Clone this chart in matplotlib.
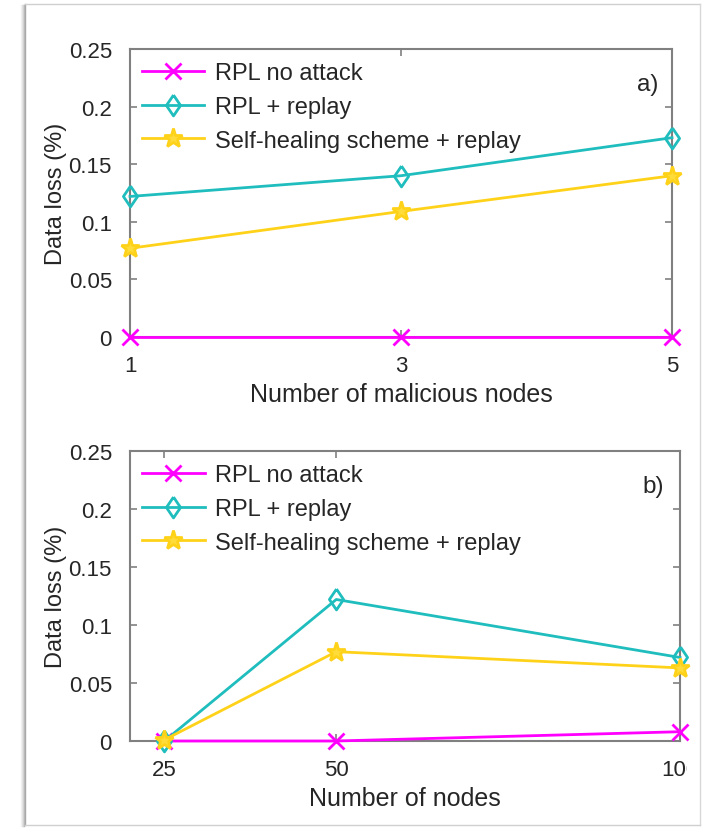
import matplotlib
matplotlib.use("Agg")
import matplotlib.pyplot as plt
from matplotlib.lines import Line2D
from matplotlib.transforms import Bbox, TransformedBbox

plt.rcParams['font.family'] = ['Liberation Sans', 'DejaVu Sans']

# ---------------------------------------------------------
# DATA
# ---------------------------------------------------------
series_names = ["RPL no attack", "RPL + replay", "Self-healing scheme + replay"]

malicious_nodes = [1, 3, 5]
a_no_attack = [0.0, 0.0, 0.0]
a_replay = [0.122, 0.140, 0.173]
a_self_healing = [0.077, 0.109, 0.140]

num_nodes = [25, 50, 100]
b_no_attack = [0.0, 0.0, 0.008]
b_replay = [0.0, 0.122, 0.072]
b_self_healing = [0.001, 0.077, 0.063]

y_ticks = [0, 0.05, 0.1, 0.15, 0.2, 0.25]
y_ticklabels = ["0", "0.05", "0.1", "0.15", "0.2", "0.25"]

# ---------------------------------------------------------
# STYLE
# ---------------------------------------------------------
colors = ["#ff00ff", "#1fbdbd", "#ffd21a"]
tall_diamond = [(0, 1), (0.68, 0), (0, -1), (-0.68, 0), (0, 1)]  # matlab-like 'd'
markers = ["x", tall_diamond, "*"]
msizes = [11, 15, 14]
faces = ["none", "none", "#ffdc3a"]
txt = "#262626"
spine = "#808080"
W, H = 704, 829


def px(x0, y0, x1, y1):
    # pixel box (top-left origin) -> figure fraction rect
    return [x0 / W, 1 - y1 / H, (x1 - x0) / W, (y1 - y0) / H]


def draw_panel(ax, xs, ys_list, xlim, xticks, xlabel, tag, tag_xy):
    handles = []
    for ys, c, m, ms, fc in zip(ys_list, colors, markers, msizes, faces):
        h, = ax.plot(xs, ys, color=c, lw=2, marker=m, ms=ms, mfc=fc,
                     mec=c, mew=2, clip_on=False, zorder=3)
        handles.append(h)
    ax.set_xlim(*xlim)
    ax.set_ylim(0, 0.25)
    ax.set_xticks(xticks)
    ax.set_yticks(y_ticks)
    ax.set_yticklabels(y_ticklabels)
    ax.tick_params(direction="in", length=5, width=1.2, color=spine,
                   labelcolor=txt, labelsize=16, top=True, right=True, pad=13)
    for s in ax.spines.values():
        s.set_color(spine)
        s.set_linewidth(1.5)
    ax.set_xlabel(xlabel, fontsize=18, color=txt, labelpad=4)
    ax.set_ylabel("Data loss (%)", fontsize=17, color=txt, labelpad=1)
    ax.text(tag_xy[0], tag_xy[1], tag, transform=ax.transAxes, fontsize=17.5,
            color=txt, ha="right", va="center")
    ax.legend(handles, series_names, loc="upper left",
              bbox_to_anchor=(0.022, 0.955), frameon=False, fontsize=17,
              handlelength=2.65, handletextpad=0.45, labelspacing=0.5,
              borderpad=0, borderaxespad=0, labelcolor=txt)


fig = plt.figure(figsize=(7.04, 8.29), dpi=100)

ax1 = fig.add_axes(px(130, 50, 672, 338))
draw_panel(ax1, malicious_nodes, [a_no_attack, a_replay, a_self_healing],
           (1, 5), malicious_nodes, "Number of malicious nodes", "a)", (0.975, 0.88))

ax2 = fig.add_axes(px(130, 452, 680, 742))
draw_panel(ax2, num_nodes, [b_no_attack, b_replay, b_self_healing],
           (20, 100), num_nodes, "Number of nodes", "b)", (0.97, 0.88))

# the screenshot cuts the last tick label of panel b)
clip = TransformedBbox(Bbox([[0, 0], [687 / W, 1]]), fig.transFigure)
for lab in ax2.get_xticklabels():
    lab.set_clip_on(True)
    lab.set_clip_box(clip)

# screenshot frame with a soft shadow on the left
for i, g in enumerate(["#f2f2f2", "#e6e6e6", "#d6d6d6", "#bdbdbd"]):
    xx = (21 + i) / W
    fig.add_artist(Line2D([xx, xx], [1 - 827 / H, 1 - 6 / H], color=g, lw=1,
                          transform=fig.transFigure))
fig.add_artist(Line2D([25 / W, 25 / W], [1 - 826 / H, 1 - 5 / H], color="#a8a8a8",
                      lw=1, transform=fig.transFigure))
fig.add_artist(Line2D([25 / W, 700 / W], [1 - 5 / H, 1 - 5 / H], color="#d0d0d0",
                      lw=1, transform=fig.transFigure))
fig.add_artist(Line2D([700 / W, 700 / W], [1 - 826 / H, 1 - 5 / H], color="#d8d8d8",
                      lw=1, transform=fig.transFigure))
fig.add_artist(Line2D([25 / W, 700 / W], [1 - 826 / H, 1 - 826 / H], color="#d0d0d0",
                      lw=1, transform=fig.transFigure))

fig.savefig("out.png", dpi=100, facecolor="white")
plt.close(fig)
